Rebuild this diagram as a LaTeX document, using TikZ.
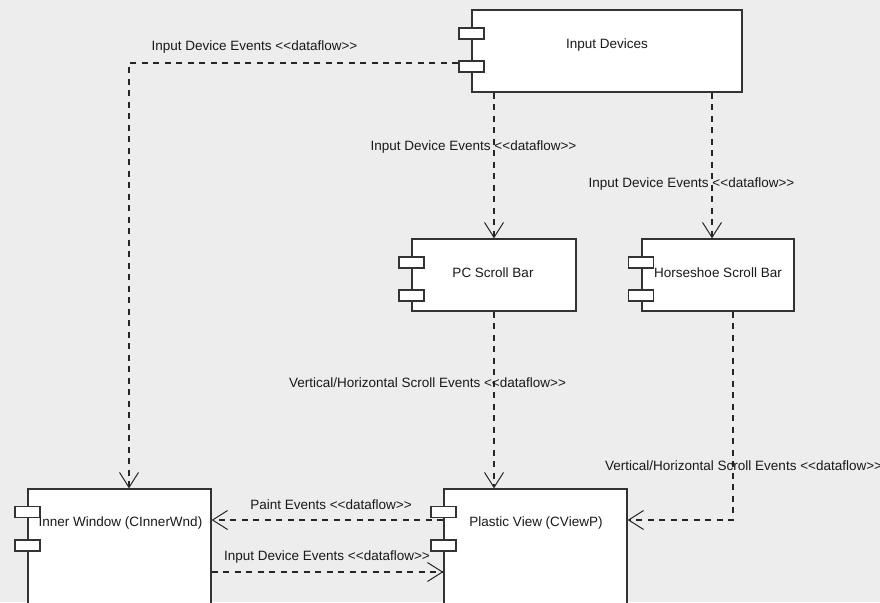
\documentclass[tikz,border=0pt]{standalone}
\usepackage{fontspec}
\setmainfont{Liberation Sans}[Ligatures=TeXOff]
\usetikzlibrary{arrows.meta}

\tikzset{
	every picture/.append style={font=\fontsize{13.5}{16}\selectfont},
	mybox/.style = {rectangle, draw=black!80, fill=white, line width=1.3pt, inner sep=0pt},
	myport/.style = {rectangle, draw=black!80, fill=white, line width=1.3pt, minimum width=25pt, minimum height=11pt, inner sep=0pt},
	mytext/.style = {inner sep=0pt, text=black!90},
	myedge/.style = {draw=black!85, line width=1.3pt, dash pattern=on 6pt off 5.5pt, -{Straight Barb[length=15pt,width=19pt,line width=1pt]}}
}

\begin{document}
\begin{tikzpicture}[x=1pt,y=-1pt]
				\useasboundingbox (0,0) rectangle (880,602);
				\fill[black!7] (0,0) rectangle (880,602);
				\clip (0,0) rectangle (880,602);
				% components
				\node[mybox, minimum width=270pt, minimum height=82pt] at (607,51) (id) {};
				\node[mybox, minimum width=164pt, minimum height=72pt] at (494,275) (pc) {};
				\node[mybox, minimum width=152pt, minimum height=72pt] at (718,275) (hs) {};
				\node[mybox, minimum width=183pt, minimum height=152pt] at (119.5,565) (iw) {};
				\node[mybox, minimum width=183pt, minimum height=152pt] at (535.5,565) (pv) {};
				% ports
				\node[myport] at (471.5,33.5) (idpa) {};
				\node[myport] at (471.5,66.5) (idpb) {};
				\node[myport] at (411.5,262.5) (pcpa) {};
				\node[myport] at (411.5,295.5) (pcpb) {};
				\node[myport] at (641,262.5) (hspa) {};
				\node[myport] at (641,295.5) (hspb) {};
				\node[myport] at (27.5,512) (iwpa) {};
				\node[myport] at (27.5,545.5) (iwpb) {};
				\node[myport] at (443.5,512) (pvpa) {};
				\node[myport] at (443.5,545.5) (pvpb) {};
				% component names
				\node[mytext] at (607,45) (idname) {Input Devices};
				\node[mytext] at (493,273) (pcname) {PC Scroll Bar};
				\node[mytext] at (718,273) (hsname) {Horseshoe Scroll Bar};
				\node[mytext] at (120.5,523) (iwname) {Inner Window (CInnerWnd)};
				\node[mytext] at (536,523) (pvname) {Plastic View (CViewP)};
				% dataflows
				\draw[myedge] ([yshift=3.5pt]idpb.west) -| ([xshift=9.5pt]iw.north);
				\path (id.south -| pc.north) edge [myedge] (pc.north);
				\path ([xshift=-6pt]hs.north |- id.south) edge [myedge] ([xshift=-6pt]hs.north);
				\path (pc.south) edge [myedge] (pc.south |- pv.north);
				\draw[myedge] ([xshift=15pt]hs.south) |- ([yshift=45pt]pv.east);
				\path ([yshift=45pt]pv.west) edge [myedge] ([yshift=45pt]iw.east);
				\path ([yshift=-7pt]iw.east) edge [myedge] ([yshift=-7pt]pv.west);
				% dataflow labels
				\node[mytext] at (254.5,47) (lida) {Input Device Events <<dataflow>>};
				\node[mytext] at (473.5,147) (lidb) {Input Device Events <<dataflow>>};
				\node[mytext] at (691.5,184) (lidc) {Input Device Events <<dataflow>>};
				\node[mytext] at (427.5,383) (lsca) {Vertical/Horizontal Scroll Events <<dataflow>>};
				\node[mytext, anchor=west] at (605,466) (lscb) {Vertical/Horizontal Scroll Events <<dataflow>>};
				\node[mytext] at (331,505) (lpnt) {Paint Events <<dataflow>>};
				\node[mytext] at (327,557) (lidd) {Input Device Events <<dataflow>>};
			\end{tikzpicture}
\end{document}
